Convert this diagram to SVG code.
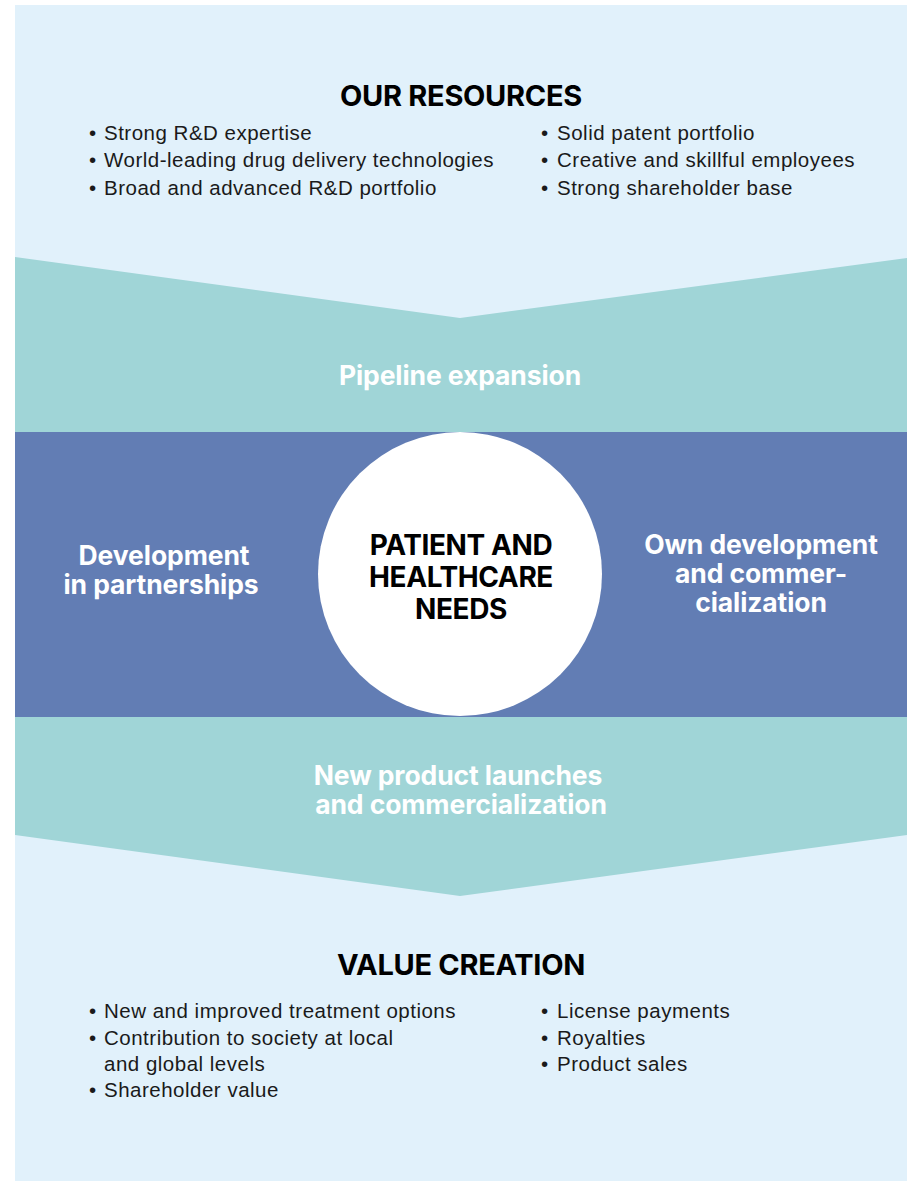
<svg xmlns="http://www.w3.org/2000/svg" width="908" height="1181" viewBox="0 0 908 1181">
<style>
.bg{fill:#E1F1FB}
.teal{fill:#A0D5D7}
.blue{fill:#627DB4}
.h{font-family:Inter,"Liberation Sans",sans-serif;font-weight:700;text-anchor:middle}
.title{font-size:29px;letter-spacing:-0.3px;fill:#000}
.wh{font-size:26.5px;letter-spacing:-0.1px;fill:#fff}
.center{font-size:28px;letter-spacing:-0.4px;fill:#000}
.body{font-family:"Liberation Sans",Arial,sans-serif;font-size:20.5px;letter-spacing:0.5px;fill:#1a1a1a}
</style>
<g id="background"><rect class="bg" x="15" y="5" width="892" height="1176"/></g>
<g id="pipeline-band"><polygon class="teal" points="15,257 460,318 907,258 907,432 15,432"/></g>
<g id="middle-band"><rect class="blue" x="15" y="432" width="892" height="285"/></g>
<g id="launch-band"><polygon class="teal" points="15,717 907,717 907,835 460,896 15,835"/></g>
<g id="resources">
<text class="h title" x="461" y="106">OUR RESOURCES</text>
<text class="body"><tspan x="89" y="139.5">•</tspan><tspan x="104">Strong R&amp;D expertise</tspan></text>
<text class="body"><tspan x="89" y="167">•</tspan><tspan x="104">World-leading drug delivery technologies</tspan></text>
<text class="body"><tspan x="89" y="194.5">•</tspan><tspan x="104">Broad and advanced R&amp;D portfolio</tspan></text>
<text class="body"><tspan x="541" y="139.5">•</tspan><tspan x="557">Solid patent portfolio</tspan></text>
<text class="body"><tspan x="541" y="167">•</tspan><tspan x="557">Creative and skillful employees</tspan></text>
<text class="body"><tspan x="541" y="194.5">•</tspan><tspan x="557">Strong shareholder base</tspan></text>
</g>
<g id="pipeline"><text class="h wh" x="460" y="385">Pipeline expansion</text></g>
<g id="partnerships"><text class="h wh" x="161"><tspan x="164" y="565">Development</tspan><tspan x="161" y="594">in partnerships</tspan></text></g>
<g id="own-development"><text class="h wh" x="761"><tspan x="761" y="554">Own development</tspan><tspan x="761" y="583">and commer-</tspan><tspan x="761" y="612">cialization</tspan></text></g>
<g id="patient-needs">
<circle cx="460" cy="574" r="142" fill="#fff"/>
<text class="h center" x="461"><tspan x="461" y="555">PATIENT AND</tspan><tspan x="461" y="587">HEALTHCARE</tspan><tspan x="461" y="619">NEEDS</tspan></text>
</g>
<g id="launches"><text class="h wh" x="460"><tspan x="458" y="785">New product launches</tspan><tspan x="461" y="814">and commercialization</tspan></text></g>
<g id="value-creation">
<text class="h title" x="461" y="975">VALUE CREATION</text>
<text class="body"><tspan x="89" y="1018">•</tspan><tspan x="104">New and improved treatment options</tspan></text>
<text class="body"><tspan x="89" y="1044.5">•</tspan><tspan x="104">Contribution to society at local</tspan></text>
<text class="body" x="104" y="1071">and global levels</text>
<text class="body"><tspan x="89" y="1097">•</tspan><tspan x="104">Shareholder value</tspan></text>
<text class="body"><tspan x="541" y="1018">•</tspan><tspan x="557">License payments</tspan></text>
<text class="body"><tspan x="541" y="1044.5">•</tspan><tspan x="557">Royalties</tspan></text>
<text class="body"><tspan x="541" y="1071">•</tspan><tspan x="557">Product sales</tspan></text>
</g>
<g id="connectors"></g>
</svg>
